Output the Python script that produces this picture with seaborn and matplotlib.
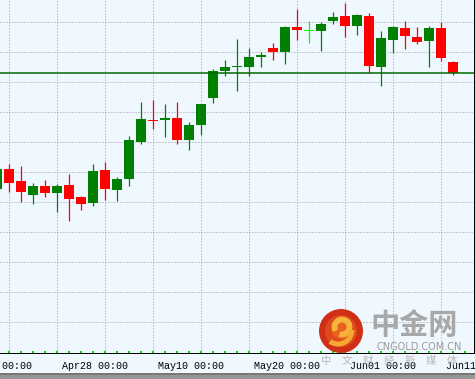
import matplotlib
matplotlib.use("Agg")
import matplotlib.pyplot as plt
import matplotlib.transforms as mtransforms
from matplotlib.patches import Circle, Arc, Rectangle
import seaborn as sns

# ---------------- data (daily candles) ----------------
candle_idx = list(range(-1, 38))
opens = [1216.3, 1218.3, 1217.1, 1215.7, 1216.6, 1215.9, 1216.7, 1215.5, 1214.9, 1218.2,
         1216.2, 1217.3, 1221.0, 1223.2, 1223.2, 1223.4, 1221.2, 1222.7, 1225.4, 1228.1,
         1228.5, 1228.5, 1229.5, 1230.4, 1230.0, 1232.5, 1232.1, 1232.1, 1233.1, 1233.6,
         1232.6, 1233.6, 1228.5, 1231.2, 1232.4, 1231.5, 1231.1, 1232.4, 1229.0]
highs = [1218.7, 1218.8, 1218.6, 1216.9, 1217.2, 1216.8, 1217.8, 1215.6, 1218.8, 1219.0,
         1217.5, 1221.6, 1225.0, 1225.2, 1224.8, 1225.0, 1223.0, 1224.8, 1228.3, 1229.2,
         1231.3, 1230.4, 1230.0, 1230.9, 1232.6, 1234.3, 1233.1, 1233.0, 1234.0, 1234.9,
         1233.8, 1233.9, 1232.1, 1232.6, 1233.1, 1232.5, 1232.6, 1233.0, 1229.1]
lows = [1216.0, 1216.0, 1215.0, 1214.8, 1215.5, 1214.0, 1213.1, 1214.2, 1214.6, 1215.2,
        1215.1, 1216.6, 1220.8, 1222.3, 1221.5, 1220.8, 1220.2, 1221.7, 1224.9, 1227.6,
        1226.1, 1227.6, 1228.5, 1229.2, 1228.8, 1231.2, 1230.9, 1230.1, 1232.8, 1231.5,
        1231.7, 1227.9, 1226.6, 1229.9, 1230.3, 1230.8, 1228.5, 1229.1, 1227.7]
closes = [1218.3, 1216.9, 1216.0, 1216.6, 1215.9, 1216.6, 1215.3, 1214.8, 1218.1, 1216.3,
          1217.3, 1221.2, 1223.3, 1223.1, 1223.4, 1221.2, 1222.7, 1224.8, 1228.1, 1228.5,
          1228.6, 1229.5, 1229.7, 1230.0, 1232.5, 1232.2, 1232.1, 1232.8, 1233.5, 1232.6,
          1233.7, 1228.6, 1231.4, 1232.5, 1231.6, 1231.0, 1232.4, 1229.4, 1227.9]
last_price = 1227.9
label_idx = [-4, 4, 12, 20, 28, 36]
label_text = ["Apr16 00:00", "Apr28 00:00", "May10 00:00", "May20 00:00",
              "Jun01 00:00", "Jun11 00:00"]
grid_prices = [1203, 1206, 1209, 1212, 1215, 1218, 1221, 1224, 1227, 1230, 1233]
grid_idx = [0, 4, 8, 12, 16, 20, 24, 28, 32, 36]

# ---------------- style ----------------
BG = "#F0F8FF"
UP, DOWN, FLAT = "#008000", "#FF0000", "#00FF00"
GRID = "#9a9a9a"

sns.set_style("white")
plt.rcParams["font.family"] = ["Liberation Mono", "DejaVu Sans"]

W, H = 475, 379
fig = plt.figure(figsize=(W / 100, H / 100), dpi=100, facecolor=BG)
ax = fig.add_axes([0, 26 / H, 474 / W, 353 / H])
ax.set_facecolor(BG)
x0, step = 8.5, 12.0
ax.set_xlim((0 - x0) / step, (474 - x0) / step)
ax.set_ylim(1199.9, 1235.2)

# grid
for g in grid_idx:
    ax.axvline(g, color=GRID, lw=0.72, ls=(0, (1, 2)), zorder=0)
for p in grid_prices:
    ax.axhline(p, color=GRID, lw=0.72, ls=(0, (1, 2)), zorder=0)

# candles
colors = []
for o, c in zip(opens, closes):
    d = c - o
    colors.append(UP if d > 0.05 else (DOWN if d < -0.05 else FLAT))
ax.vlines(candle_idx, lows, highs, colors=colors, lw=0.9, zorder=2)
bottoms = [min(o, c) for o, c in zip(opens, closes)]
heights = [max(abs(c - o), 0.12) for o, c in zip(opens, closes)]
ax.bar(candle_idx, heights, bottom=bottoms, width=10 / 12, color=colors,
       linewidth=0, zorder=3)

# current price line
ax.axhline(last_price, color="#006a00", lw=1.1, zorder=4)

# axis dots
dot_idx = list(range(0, 39))
sns.scatterplot(x=dot_idx, y=[1200.05] * len(dot_idx), marker="s", s=2.5,
                color="#00dd00", linewidth=0, ax=ax, legend=False, zorder=5,
                clip_on=False)

# spines / ticks
for s in ("left", "top"):
    ax.spines[s].set_visible(False)
for s in ("bottom", "right"):
    ax.spines[s].set_color("black")
    ax.spines[s].set_linewidth(0.72)
ax.set_yticks([])
ax.set_xticks(label_idx[1:])
ax.tick_params(axis="x", length=2.9, width=0.72, direction="out", color="black",
               labelbottom=False)

offset = mtransforms.ScaledTranslation(6 / 100, 0, fig.dpi_scale_trans)
trans = mtransforms.blended_transform_factory(ax.transData, ax.transAxes) + offset
for i, lab in zip(label_idx, label_text):
    ax.text(i, -13 / 353, lab, transform=trans, ha="left", va="center",
            fontsize=7.2, color="black", clip_on=False)

# ---------------- overlay: bottom strip and watermark ----------------
ov = fig.add_axes([0, 0, 1, 1], zorder=10)
ov.set_xlim(0, W)
ov.set_ylim(H, 0)
ov.axis("off")
ov.patch.set_alpha(0)
ov.add_patch(Rectangle((0, 373), W, 6, color="#969696", lw=0))
ov.add_patch(Rectangle((0, 373), W, 1.5, color="#787878", lw=0))

# logo
ov.add_patch(Circle((341, 331), 22, facecolor="#cf2f17", edgecolor="none"))
ov.add_patch(Circle((341, 331), 16, facecolor="#de4a1c", edgecolor="none"))
ov.add_patch(Circle((341, 330), 9, facecolor="#e9621f", edgecolor="none"))
ov.add_patch(Arc((342, 327), 15, 15, theta1=150, theta2=470, lw=4.2,
                 color="#f7b43a"))
ov.add_patch(Arc((338, 330), 28, 28, theta1=0, theta2=125, lw=3.6,
                 color="#f5a833"))
ov.text(414, 325, "中金网", fontsize=21, family=["Noto Sans CJK SC"],
        weight="bold", color="#a8a8a8", ha="center", va="center")
ov.text(419, 347.5, "CNGOLD.COM.CN", fontsize=7, family=["DejaVu Sans"],
        color="#9a9a9a", ha="center", va="center")
for k, ch in enumerate("中文财经新媒体"):
    ov.text(326 + 21 * k, 361, ch, fontsize=7.5, family=["Noto Sans CJK SC"],
            color="#b8b8b8", ha="center", va="center")

fig.savefig("out.png", dpi=100, facecolor=BG)
